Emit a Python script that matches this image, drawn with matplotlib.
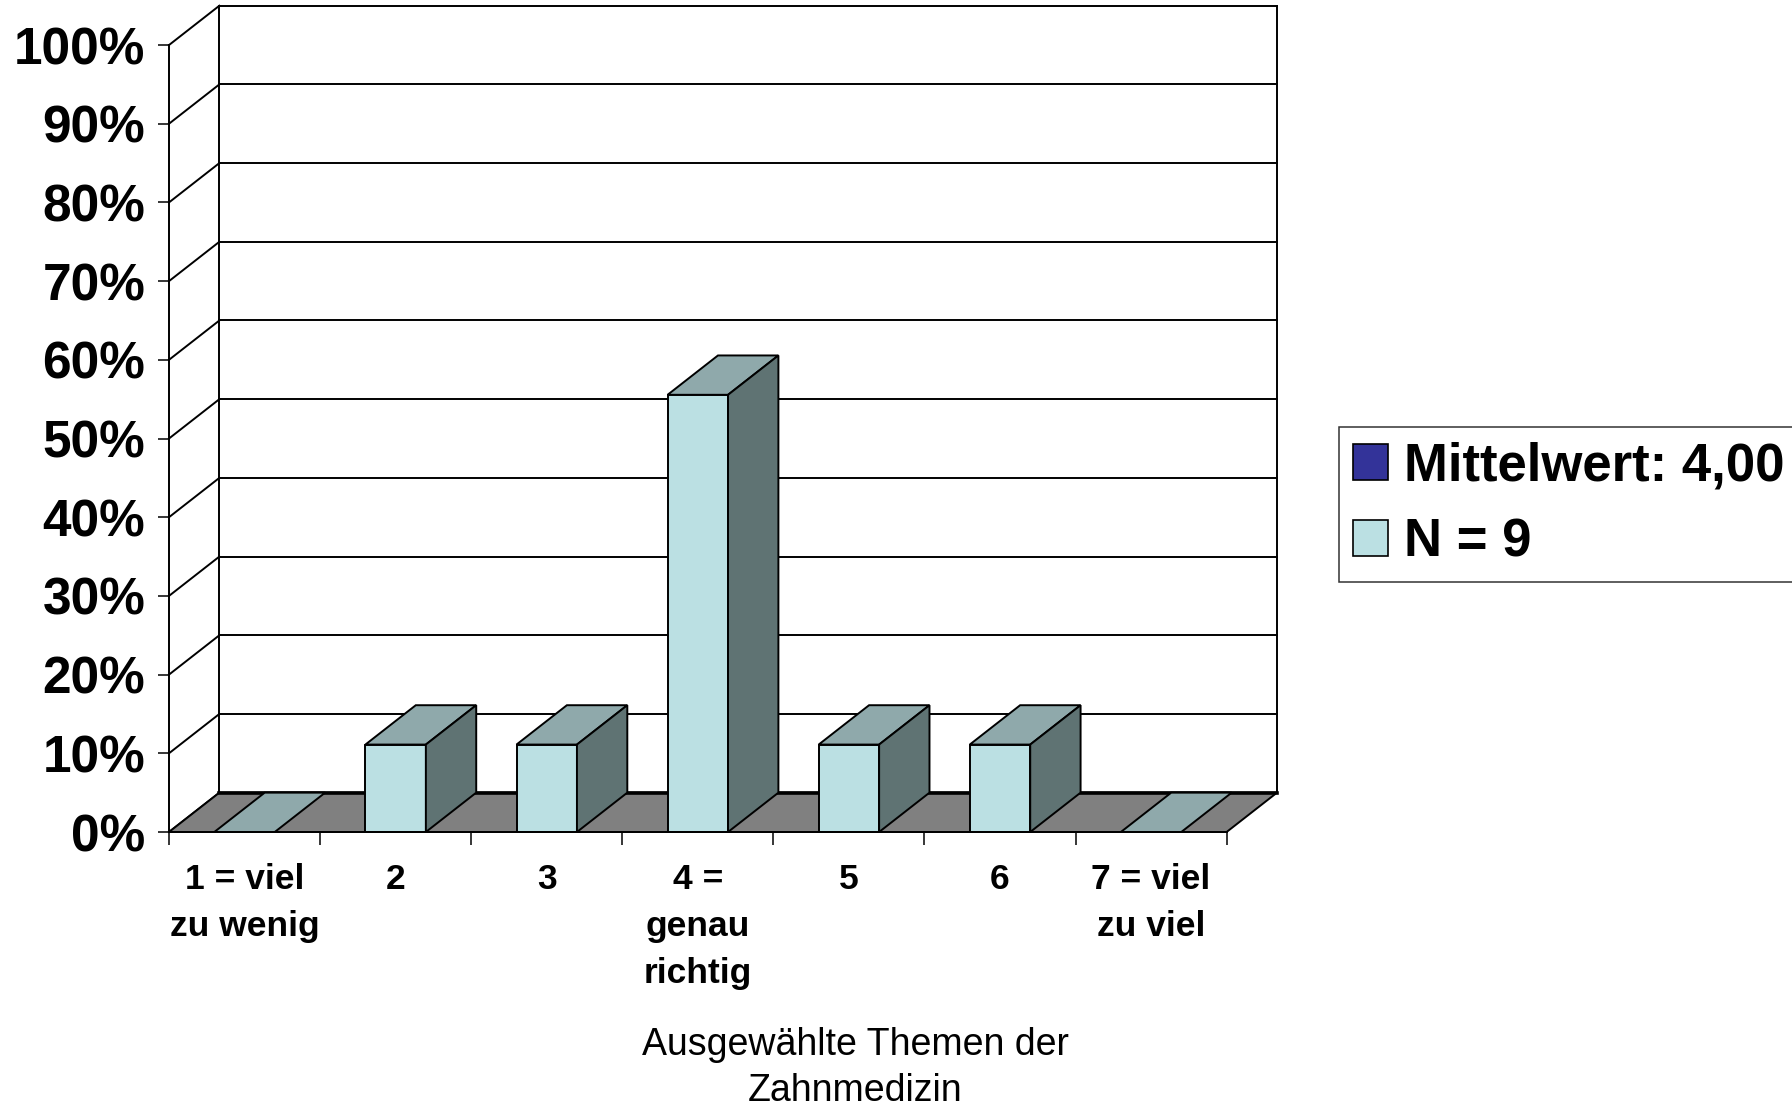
import numpy as np
import matplotlib
matplotlib.use('Agg')
import matplotlib.pyplot as plt
from matplotlib.patches import Polygon, Patch

plt.rcParams['font.family'] = ['Liberation Sans', 'DejaVu Sans']

# data
categories = ["1 = viel\nzu wenig", "2", "3", "4 =\ngenau\nrichtig", "5", "6", "7 = viel\nzu viel"]
counts = [0, 1, 1, 5, 1, 1, 0]
n_total = 9
y_ticks = [0, 10, 20, 30, 40, 50, 60, 70, 80, 90, 100]
legend_labels = ["Mittelwert: 4,00", "N = 9"]
x_title = "Ausgewählte Themen der\nZahnmedizin"

pct = np.array(counts) / n_total * 100

# 3d look
DX, DY = 1 / 3, 5.0
HALF = 0.2
C_FRONT = '#BBE0E3'
C_SIDE = '#5F7373'
C_TOP = '#8FA9AB'
C_FLOOR = '#808080'
C_MEAN = '#333399'
LW = 1.4

W, H = 1792, 1106
fig = plt.figure(figsize=(W / 100, H / 100), dpi=100, facecolor='white')
n_cat = len(categories)
ax = fig.add_axes([169 / W, (H - 832) / H, (1277 - 169) / W, (832 - 5.7) / H])
ax.set_xlim(0, n_cat + DX)
ax.set_ylim(0, 100 + DY)
ax.patch.set_visible(False)


def poly(pts, fc, z):
    ax.add_patch(Polygon(pts, closed=True, facecolor=fc, edgecolor='black',
                         lw=LW, joinstyle='miter', zorder=z, clip_on=False))


# walls / gridlines
for p in y_ticks:
    ax.plot([0, DX], [p, p + DY], color='black', lw=LW, zorder=1, clip_on=False)
    ax.plot([DX, n_cat + DX], [p + DY, p + DY], color='black', lw=LW, zorder=1, clip_on=False)
ax.plot([DX, DX], [DY, 100 + DY], color='black', lw=LW, zorder=1, clip_on=False)
ax.plot([n_cat + DX, n_cat + DX], [DY, 100 + DY], color='black', lw=LW, zorder=1, clip_on=False)

# floor
poly([(0, 0), (n_cat, 0), (n_cat + DX, DY), (DX, DY)], C_FLOOR, 2)
ax.plot([DX, n_cat + DX], [DY, DY], color='black', lw=2.6, zorder=2.5, clip_on=False)

# bars
for i, v in enumerate(pct):
    c = i + 0.5
    x0, x1 = c - HALF, c + HALF
    poly([(x0, v), (x1, v), (x1 + DX, v + DY), (x0 + DX, v + DY)], C_TOP, 3)
    if v > 0:
        poly([(x0, 0), (x1, 0), (x1, v), (x0, v)], C_FRONT, 3)
        poly([(x1, 0), (x1 + DX, DY), (x1 + DX, v + DY), (x1, v)], C_SIDE, 3)

# axes
for s in ['top', 'right']:
    ax.spines[s].set_visible(False)
ax.spines['left'].set_bounds(0, 100)
ax.spines['bottom'].set_bounds(0, n_cat)
for s in ['left', 'bottom']:
    ax.spines[s].set_linewidth(LW)
    ax.spines[s].set_zorder(4)

ax.set_yticks(y_ticks)
ax.set_yticklabels([f"{t}%" for t in y_ticks], fontsize=37, fontweight='bold')
ax.tick_params(axis='y', length=8, width=1.1, pad=9, direction='out')

ax.set_xticks(np.arange(n_cat + 1))
ax.set_xticklabels([])
ax.tick_params(axis='x', which='major', length=9.5, width=1.1, direction='out')
ax.set_xticks(np.arange(n_cat) + 0.5, minor=True)
ax.set_xticklabels(categories, minor=True, fontsize=25.5, fontweight='bold', linespacing=1.55)
ax.tick_params(axis='x', which='minor', length=0, pad=22)

fig.text(855 / W, 1 - 1027 / H, x_title, ha='center', va='top', fontsize=27,
         linespacing=1.36)

handles = [Patch(facecolor=C_MEAN, edgecolor='black', lw=1.2),
           Patch(facecolor=C_FRONT, edgecolor='black', lw=1.2)]
leg = fig.legend(handles, legend_labels, loc='upper left',
                 bbox_to_anchor=(1339 / W, 1 - 427 / H), borderaxespad=0,
                 prop={'size': 38, 'weight': 'bold'}, handlelength=0.66, handleheight=0.66,
                 handletextpad=0.3, labelspacing=0.5, borderpad=0.27,
                 fancybox=False, frameon=True)
leg.get_frame().set_edgecolor('black')
leg.get_frame().set_linewidth(1.1)

fig.savefig('out.png', dpi=100, facecolor='white')
